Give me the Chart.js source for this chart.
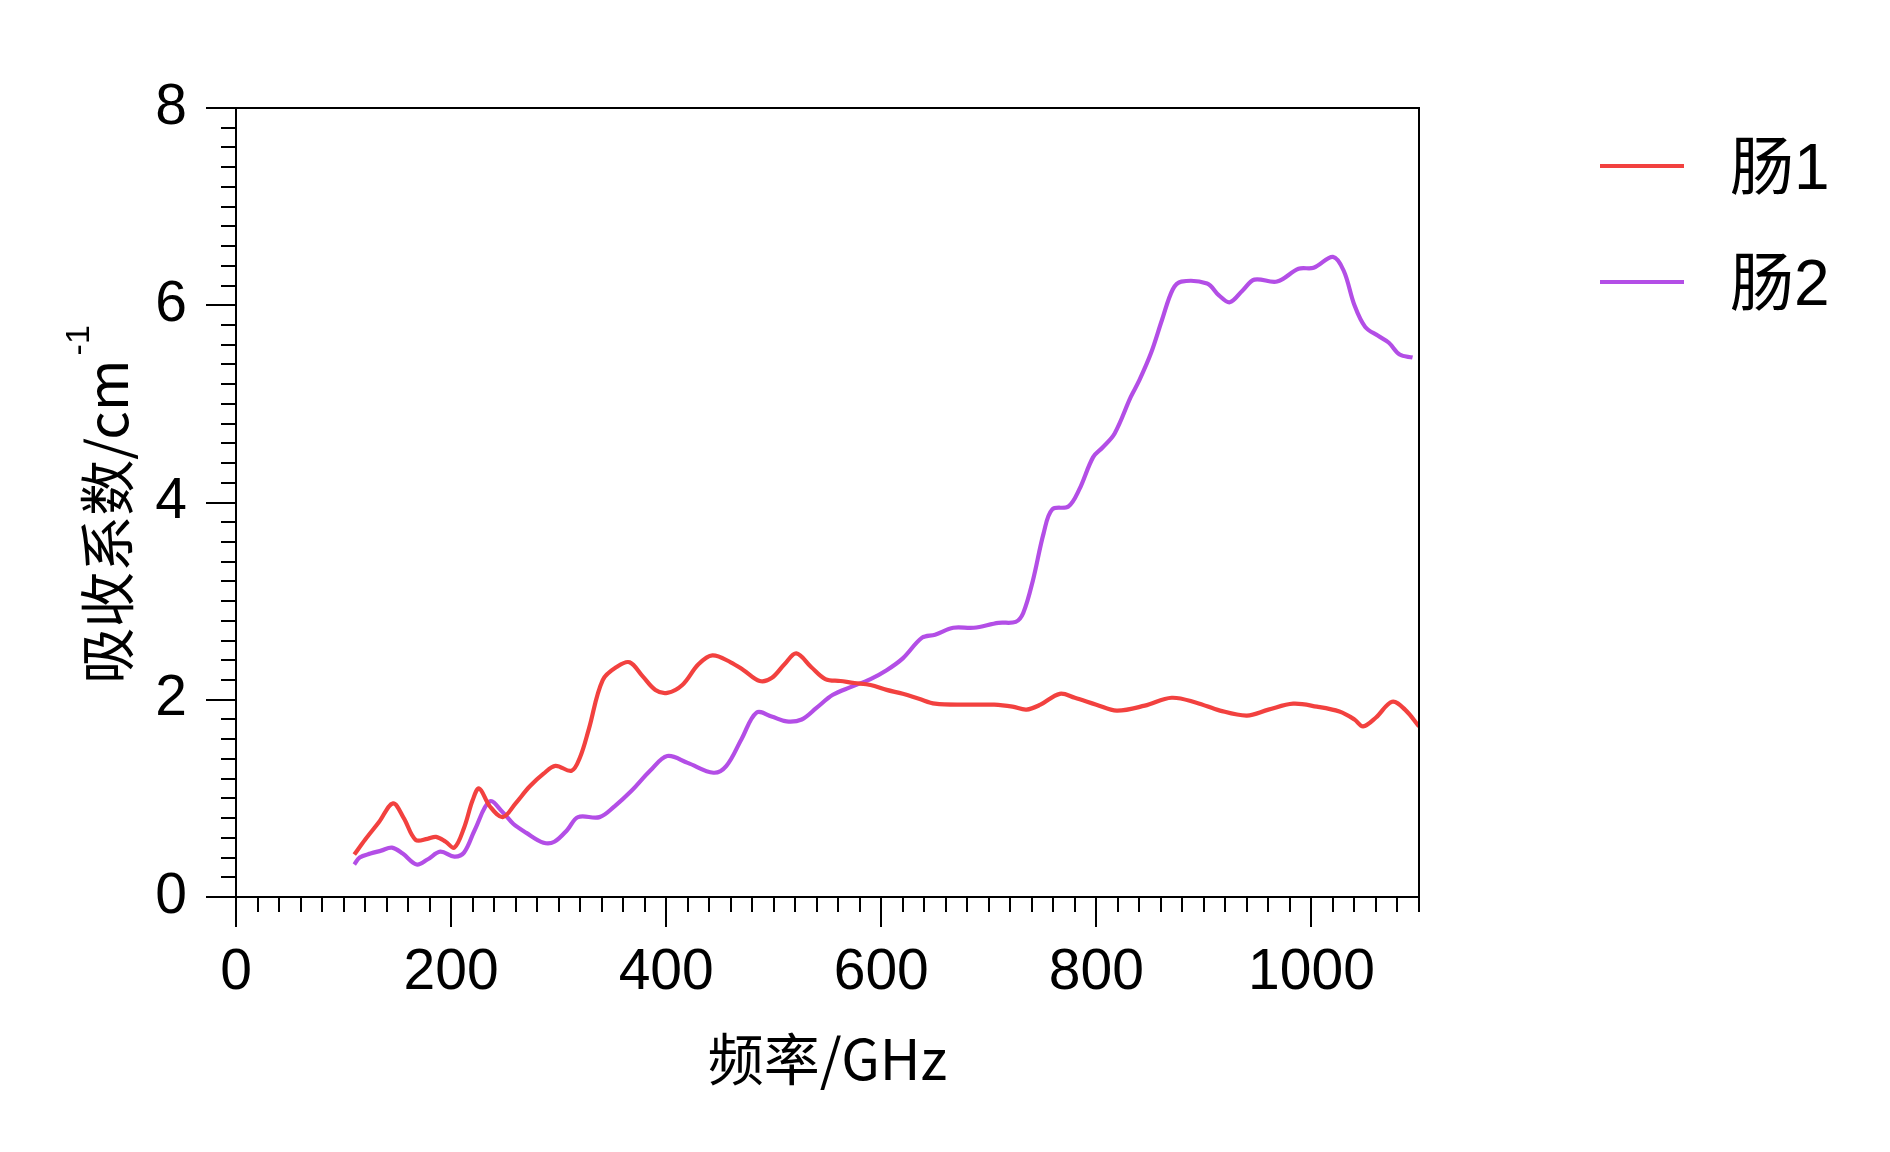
<!DOCTYPE html>
<html>
<head>
<meta charset="utf-8">
<script src="https://cdn.jsdelivr.net/npm/chart.js@4.4.1/dist/chart.umd.min.js"></script>
<style>
  html, body { margin: 0; padding: 0; background: #ffffff; }
  canvas { display: block; }
</style>
</head>
<body>
<canvas id="c" width="1890" height="1152"></canvas>
<script>
// ---- data ----
const seriesNames = ['肠1', '肠2'];
const seriesColors = ['#f2413f', '#b34ee6'];

const freq1 = [110, 120, 133, 146, 156, 167, 178, 186, 195, 203, 212, 220, 226, 236, 248, 260, 273, 286, 297, 312, 320, 328, 341, 355, 366, 378, 390, 401, 415, 430, 443, 460, 472, 487, 498, 510, 521, 535, 548, 562, 575, 590, 605, 620, 635, 650, 680, 705, 722, 735, 748, 766, 780, 800, 819, 845, 870, 893, 915, 940, 960, 983, 1005, 1026, 1040, 1048, 1060, 1075, 1087, 1100];
const abs1 = [0.43, 0.58, 0.76, 0.95, 0.80, 0.58, 0.59, 0.61, 0.56, 0.50, 0.70, 0.98, 1.10, 0.92, 0.81, 0.95, 1.12, 1.25, 1.33, 1.28, 1.42, 1.70, 2.20, 2.34, 2.38, 2.24, 2.10, 2.07, 2.15, 2.36, 2.45, 2.38, 2.30, 2.19, 2.22, 2.36, 2.47, 2.33, 2.21, 2.19, 2.17, 2.15, 2.10, 2.06, 2.01, 1.96, 1.95, 1.95, 1.93, 1.90, 1.95, 2.06, 2.02, 1.95, 1.89, 1.94, 2.02, 1.97, 1.89, 1.84, 1.90, 1.96, 1.93, 1.88, 1.80, 1.73, 1.82, 1.98, 1.90, 1.73];

const freq2 = [110, 115, 125, 135, 145, 155, 168, 178, 190, 203, 212, 222, 236, 248, 258, 270, 286, 296, 308, 318, 338, 352, 368, 385, 401, 420, 444, 456, 470, 484, 498, 512, 526, 540, 555, 572, 590, 605, 620, 638, 650, 667, 686, 709, 725, 732, 741, 751, 759, 774, 784, 797, 806, 817, 832, 840, 851, 861, 871, 879, 903, 914, 924, 936, 947, 968, 988, 1002, 1020, 1030, 1040, 1050, 1062, 1072, 1082, 1094];
const abs2 = [0.33, 0.40, 0.44, 0.47, 0.50, 0.44, 0.33, 0.38, 0.46, 0.41, 0.45, 0.68, 0.97, 0.86, 0.74, 0.65, 0.55, 0.56, 0.68, 0.81, 0.81, 0.92, 1.08, 1.28, 1.43, 1.36, 1.26, 1.33, 1.60, 1.87, 1.83, 1.78, 1.80, 1.92, 2.05, 2.13, 2.21, 2.30, 2.42, 2.63, 2.66, 2.73, 2.73, 2.78, 2.79, 2.88, 3.21, 3.69, 3.93, 3.96, 4.13, 4.46, 4.56, 4.70, 5.07, 5.24, 5.52, 5.85, 6.16, 6.24, 6.22, 6.10, 6.03, 6.15, 6.26, 6.24, 6.37, 6.38, 6.49, 6.35, 6.00, 5.78, 5.69, 5.62, 5.50, 5.47];

const xTickValues = [0, 200, 400, 600, 800, 1000];
const yTickValues = [0, 2, 4, 6, 8];
const xTitle = '频率/GHz';
const yTitleMain = '吸收系数/cm';
const yTitleSup = '-1';

// ---- chart ----
const toPoints = (xs, ys) => xs.map((x, i) => ({ x: x, y: ys[i] }));
const latinCjk = "'Liberation Sans', 'Noto Sans CJK SC', sans-serif";
const cjkFont = "'Noto Sans CJK SC', 'Liberation Sans', sans-serif";

const framePlugin = {
  id: 'frame',
  afterDraw(chart) {
    const ctx = chart.ctx;
    const a = chart.chartArea;
    const xs = chart.scales.x, ys = chart.scales.y;
    ctx.save();
    ctx.strokeStyle = '#000';
    ctx.lineWidth = 2;
    ctx.strokeRect(a.left, a.top, a.right - a.left, a.bottom - a.top);
    ctx.beginPath();
    // y ticks (minor every 0.2, major every 2)
    for (let k = 0; k <= 40; k++) {
      const v = k * 0.2;
      const py = Math.round(ys.getPixelForValue(v));
      const len = (k % 10 === 0) ? 30 : 15;
      ctx.moveTo(a.left - len, py);
      ctx.lineTo(a.left, py);
    }
    // x ticks (minor every 20, major every 200)
    for (let k = 0; k <= 55; k++) {
      const v = k * 20;
      const px = Math.round(xs.getPixelForValue(v));
      const len = (k % 10 === 0) ? 30 : 15;
      ctx.moveTo(px, a.bottom);
      ctx.lineTo(px, a.bottom + len);
    }
    ctx.stroke();

    // y axis title with superscript
    ctx.save();
    ctx.translate(107, (a.top + a.bottom) / 2 + 2);
    ctx.rotate(-Math.PI / 2);
    ctx.fillStyle = '#000';
    ctx.textBaseline = 'middle';
    ctx.font = "56px " + cjkFont;
    const wMain = ctx.measureText(yTitleMain).width;
    ctx.font = "34px " + latinCjk;
    const wSup = ctx.measureText(yTitleSup).width;
    const total = wMain + 4 + wSup;
    ctx.font = "56px " + cjkFont;
    ctx.textAlign = 'left';
    ctx.fillText(yTitleMain, -total / 2, 0);
    ctx.font = "34px " + latinCjk;
    ctx.fillText(yTitleSup, -total / 2 + wMain + 4, -27);
    ctx.restore();

    // legend
    chart.data.datasets.forEach((ds, i) => {
      const ly = 166 + i * 116;
      ctx.strokeStyle = ds.borderColor;
      ctx.lineWidth = 4;
      ctx.beginPath();
      ctx.moveTo(1600, ly);
      ctx.lineTo(1684, ly);
      ctx.stroke();
      ctx.fillStyle = '#000';
      ctx.font = "64px " + latinCjk;
      ctx.textAlign = 'left';
      ctx.textBaseline = 'middle';
      ctx.fillText(ds.label, 1730, ly + 5);
    });
    ctx.restore();
  }
};

new Chart(document.getElementById('c'), {
  type: 'line',
  data: {
    datasets: [
      { label: seriesNames[0], data: toPoints(freq1, abs1), borderColor: seriesColors[0], backgroundColor: seriesColors[0],
        borderWidth: 4.2, pointRadius: 0, tension: 0.35, fill: false },
      { label: seriesNames[1], data: toPoints(freq2, abs2), borderColor: seriesColors[1], backgroundColor: seriesColors[1],
        borderWidth: 4.2, pointRadius: 0, tension: 0.35, fill: false }
    ]
  },
  options: {
    responsive: false,
    animation: false,
    layout: { padding: { top: 108, right: 471, left: 0, bottom: 0 } },
    plugins: { legend: { display: false }, tooltip: { enabled: false } },
    scales: {
      x: {
        type: 'linear', min: 0, max: 1100,
        grid: { display: false }, border: { display: false },
        afterBuildTicks: (s) => { s.ticks = xTickValues.map(v => ({ value: v })); },
        ticks: { padding: 34, color: '#000', font: { size: 57, family: latinCjk }, callback: (v) => String(v) },
        title: { display: true, text: xTitle, color: '#000', font: { size: 56, family: cjkFont }, padding: { top: 0, bottom: 60 } },
        afterFit: (s) => { s.height = 255; }
      },
      y: {
        type: 'linear', min: 0, max: 8,
        grid: { display: false }, border: { display: false },
        afterBuildTicks: (s) => { s.ticks = yTickValues.map(v => ({ value: v })); },
        ticks: { padding: 41, color: '#000', font: { size: 57, family: latinCjk }, callback: (v) => String(v) },
        afterFit: (s) => { s.width = 236; }
      }
    }
  },
  plugins: [framePlugin]
});
</script>
</body>
</html>
